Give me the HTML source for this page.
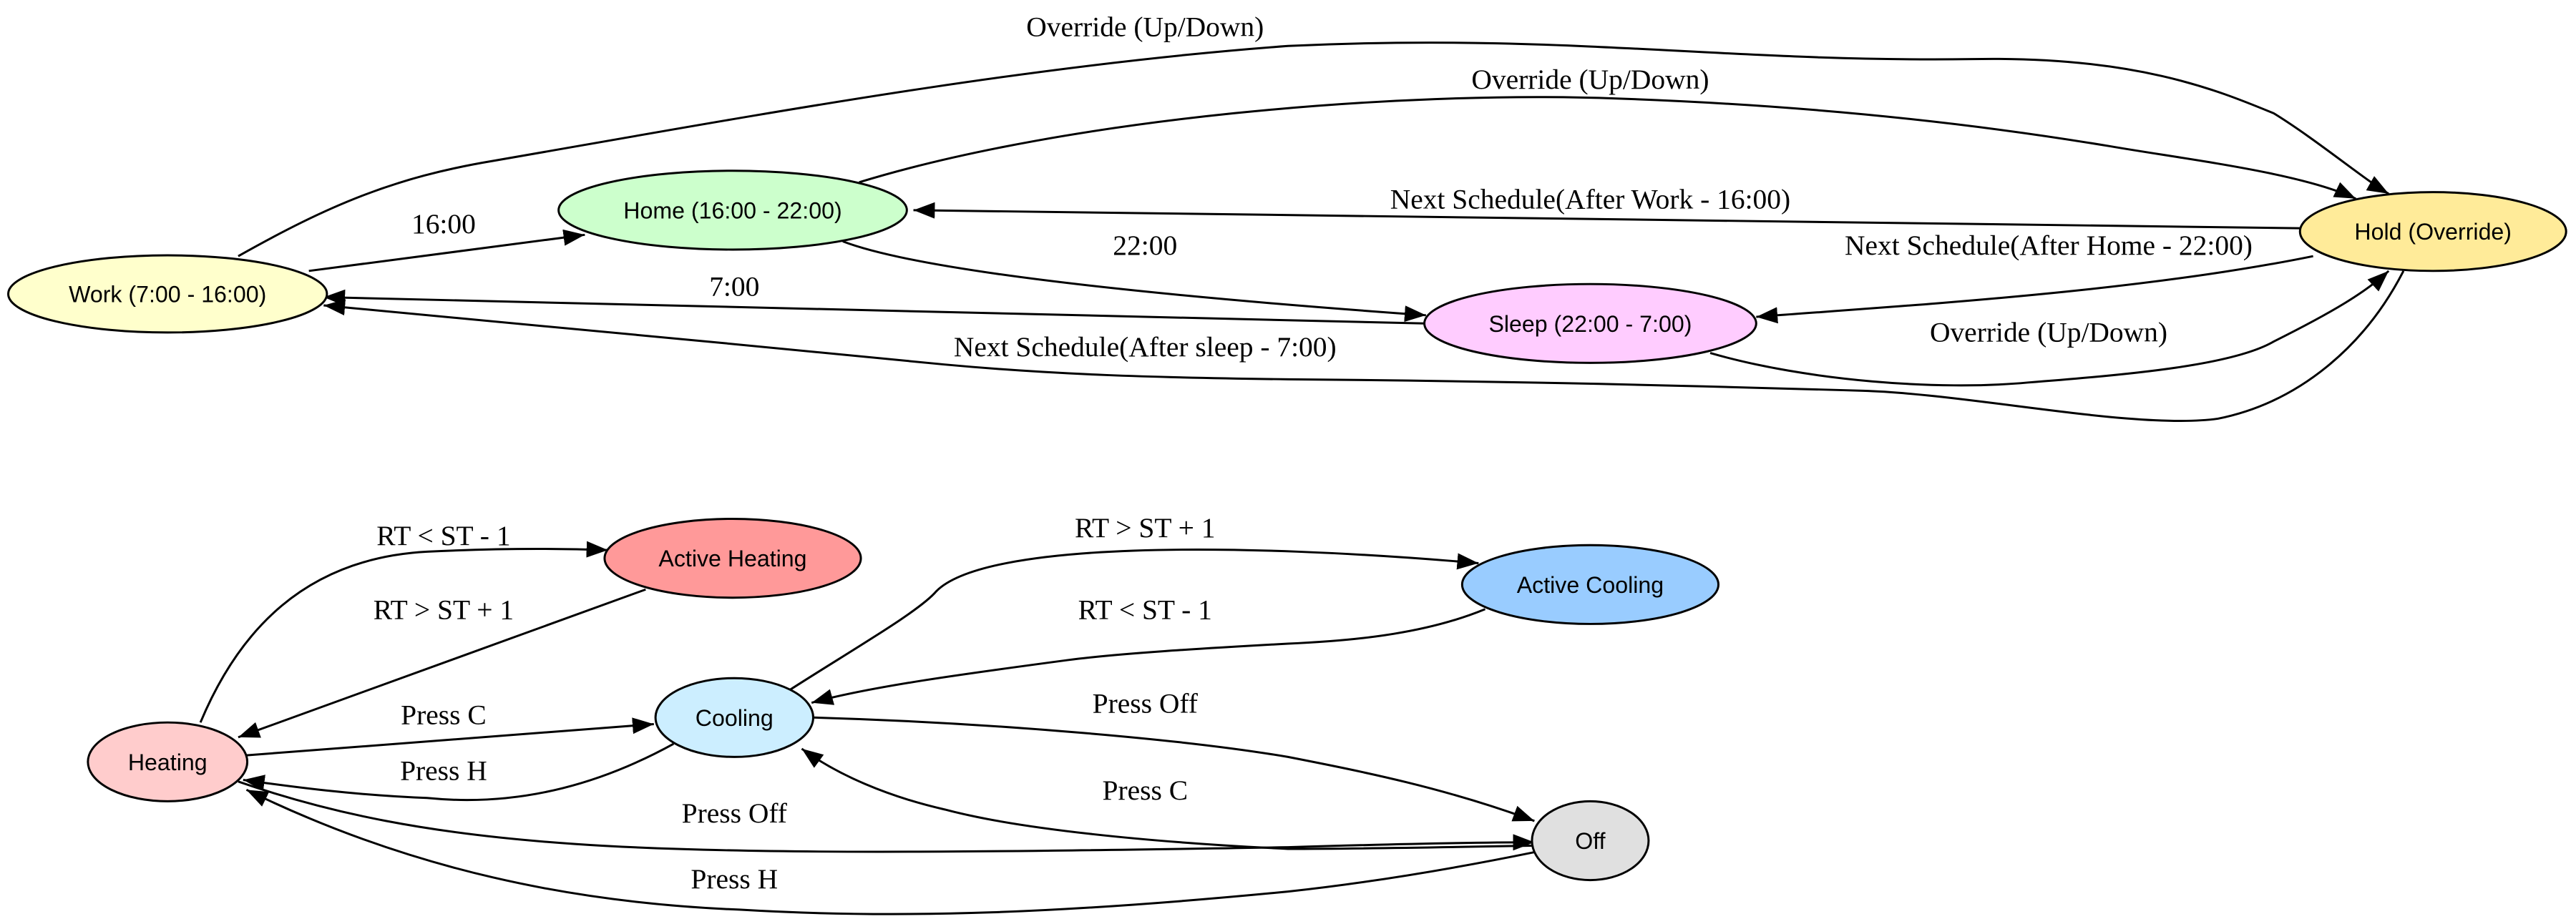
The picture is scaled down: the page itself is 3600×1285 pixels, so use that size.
<!DOCTYPE html>
<html><head><meta charset="utf-8"><style>
html,body{margin:0;padding:0;background:#fff;}
svg{display:block;}
.e{fill:none;stroke:#000;stroke-width:1.3;}
.l{font-family:"Liberation Serif",serif;font-size:17.2px;text-anchor:middle;fill:#000;}
.n{font-family:"Liberation Sans",sans-serif;font-size:14px;text-anchor:middle;fill:#000;}
.s{stroke:#000;stroke-width:1.3;}
</style></head><body>
<svg width="3600" height="1285" viewBox="0 0 1568 559.7" xmlns="http://www.w3.org/2000/svg">
<defs>
<marker id="a" markerUnits="userSpaceOnUse" markerWidth="14" markerHeight="12" refX="13" refY="5" orient="auto">
<path d="M0,0 L13,5 L0,10 Z" fill="#000"/>
</marker>
</defs>
<rect width="1568" height="559.7" fill="#fff"/>

<path class="e" marker-end="url(#a)" d="M145,156 C200,125 240,108 300,98 C450,72 620,40 784,28 C950,20 1050,38 1200,36 C1300,34 1350,55 1384,69 C1410,85 1440,110 1454,118"/>
<text class="l" x="697" y="22">Override (Up/Down)</text>
<path class="e" marker-end="url(#a)" d="M523,111 C650,72 850,55 984,60 C1100,64 1200,75 1284,89 C1330,97 1400,105 1434,121"/>
<text class="l" x="968" y="54">Override (Up/Down)</text>
<path class="e" marker-end="url(#a)" d="M1400,139 L556,128"/>
<text class="l" x="968" y="127">Next Schedule(After Work - 16:00)</text>
<path class="e" marker-end="url(#a)" d="M188,165 L356,143"/>
<text class="l" x="270" y="142">16:00</text>
<path class="e" marker-end="url(#a)" d="M513,147 C560,165 700,180 868,192"/>
<text class="l" x="697" y="155">22:00</text>
<path class="e" marker-end="url(#a)" d="M867,197 L197,181"/>
<text class="l" x="447" y="180">7:00</text>
<path class="e" marker-end="url(#a)" d="M1408,156 C1300,178 1160,186 1069,193"/>
<text class="l" x="1247" y="155">Next Schedule(After Home - 22:00)</text>
<path class="e" marker-end="url(#a)" d="M1041,215 C1100,232 1180,238 1234,233 C1300,228 1360,222 1384,208 C1420,190 1440,178 1454,165"/>
<text class="l" x="1247" y="208">Override (Up/Down)</text>
<path class="e" marker-end="url(#a)" d="M1463,165 C1440,210 1400,245 1350,255 C1300,262 1200,240 1134,238 C1000,234 900,232 784,231 C700,230 640,228 575,222 C450,210 300,195 197,186"/>
<text class="l" x="697" y="217">Next Schedule(After sleep - 7:00)</text>

<ellipse class="s" cx="102" cy="179" rx="97" ry="23.5" fill="#ffffcc"/>
<text class="n" x="102" y="184">Work (7:00 - 16:00)</text>
<ellipse class="s" cx="446" cy="128" rx="106" ry="24" fill="#ccffcc"/>
<text class="n" x="446" y="133">Home (16:00 - 22:00)</text>
<ellipse class="s" cx="1481" cy="141" rx="81" ry="24" fill="#ffeb99"/>
<text class="n" x="1481" y="146">Hold (Override)</text>
<ellipse class="s" cx="968" cy="197" rx="101" ry="24" fill="#ffccff"/>
<text class="n" x="968" y="202">Sleep (22:00 - 7:00)</text>

<path class="e" marker-end="url(#a)" d="M122,440 C145,385 185,340 260,336 C300,334 340,334 370,335"/>
<text class="l" x="270" y="332">RT &lt; ST - 1</text>
<path class="e" marker-end="url(#a)" d="M393,359 L145,449"/>
<text class="l" x="270" y="377">RT &gt; ST + 1</text>
<path class="e" marker-end="url(#a)" d="M150,460 L398,441"/>
<text class="l" x="270" y="441">Press C</text>
<path class="e" marker-end="url(#a)" d="M410,453 C370,475 320,492 260,486 C210,484 170,478 148,475"/>
<text class="l" x="270" y="475">Press H</text>
<path class="e" marker-end="url(#a)" d="M481,420 C520,395 560,372 570,360 C600,330 750,330 900,343"/>
<text class="l" x="697" y="327">RT &gt; ST + 1</text>
<path class="e" marker-end="url(#a)" d="M904,371 C870,385 830,390 784,392 C730,395 680,398 650,402 C590,410 530,418 494,428"/>
<text class="l" x="697" y="377">RT &lt; ST - 1</text>
<path class="e" marker-end="url(#a)" d="M495,437 C600,440 720,450 784,461 C830,470 880,480 934,500"/>
<text class="l" x="697" y="434">Press Off</text>
<path class="e" marker-end="url(#a)" d="M145,476 C200,495 260,508 350,514 C450,521 600,519 784,516 C850,514 900,513 934,513"/>
<text class="l" x="447" y="501">Press Off</text>
<path class="e" marker-end="url(#a)" d="M934,515 C880,516 830,517 784,517 C700,513 620,505 575,493 C540,485 510,472 488,456"/>
<text class="l" x="697" y="487">Press C</text>
<path class="e" marker-end="url(#a)" d="M934,519 C880,530 830,538 784,543 C650,556 550,560 450,554 C350,550 250,530 150,481"/>
<text class="l" x="447" y="541">Press H</text>

<ellipse class="s" cx="446" cy="340" rx="78" ry="24" fill="#ff9999"/>
<text class="n" x="446" y="345">Active Heating</text>
<ellipse class="s" cx="102" cy="464" rx="48.5" ry="24" fill="#ffcccc"/>
<text class="n" x="102" y="469">Heating</text>
<ellipse class="s" cx="447" cy="437" rx="48" ry="24" fill="#cceeff"/>
<text class="n" x="447" y="442">Cooling</text>
<ellipse class="s" cx="968" cy="356" rx="78" ry="24" fill="#99ccff"/>
<text class="n" x="968" y="361">Active Cooling</text>
<ellipse class="s" cx="968" cy="512" rx="35.5" ry="24" fill="#e0e0e0"/>
<text class="n" x="968" y="517">Off</text>
</svg>
</body></html>
